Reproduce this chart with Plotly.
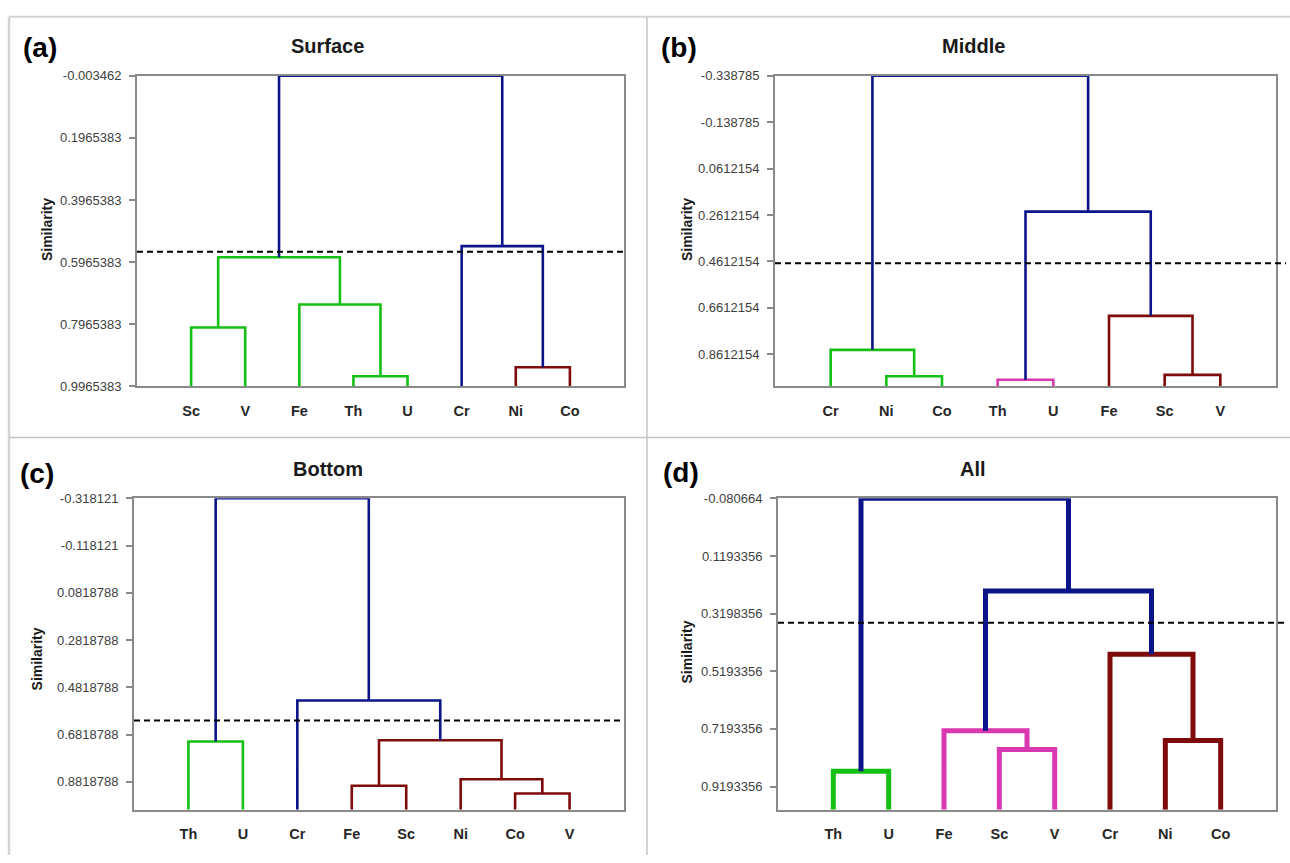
import plotly.graph_objects as go

W, H = 1290, 863

# ---------------- data ----------------
BLUE, GREEN, RED, MAG = "#0B1488", "#14C014", "#7E0A0A", "#D838B0"

titles = ["Surface", "Middle", "Bottom", "All"]
letters = ["(a)", "(b)", "(c)", "(d)"]

leaves_a = ["Sc", "V", "Fe", "Th", "U", "Cr", "Ni", "Co"]
leaves_b = ["Cr", "Ni", "Co", "Th", "U", "Fe", "Sc", "V"]
leaves_c = ["Th", "U", "Cr", "Fe", "Sc", "Ni", "Co", "V"]
leaves_d = ["Th", "U", "Fe", "Sc", "V", "Cr", "Ni", "Co"]

# merges: (child1, child2, similarity level, colour); int = index of earlier merge
merges_a = [("Th", "U", 0.964, GREEN), ("Ni", "Co", 0.935, RED), ("Sc", "V", 0.807, GREEN),
            ("Fe", 0, 0.733, GREEN), (2, 3, 0.581, GREEN), ("Cr", 1, 0.545, BLUE),
            (4, 5, -0.003462, BLUE)]
merges_b = [("Th", "U", 0.972, MAG), ("Ni", "Co", 0.9565, GREEN), ("Sc", "V", 0.951, RED),
            ("Cr", 1, 0.843, GREEN), ("Fe", 2, 0.6964, RED), (0, 4, 0.247, BLUE),
            (3, 5, -0.338785, BLUE)]
merges_c = [("Co", "V", 0.931, RED), ("Fe", "Sc", 0.898, RED), ("Ni", 0, 0.871, RED),
            (1, 2, 0.706, RED), ("Th", "U", 0.711, GREEN), ("Cr", 3, 0.5375, BLUE),
            (4, 5, -0.318121, BLUE)]
merges_d = [("Th", "U", 0.866, GREEN), ("Sc", "V", 0.791, MAG), ("Ni", "Co", 0.760, RED),
            ("Fe", 1, 0.726, MAG), ("Cr", 2, 0.460, RED), (3, 4, 0.2408, BLUE),
            (0, 5, -0.080664, BLUE)]

y_top = [-0.003462, -0.338785, -0.318121, -0.080664]
y_bottom = [0.9965383, 1.0, 1.0, 1.0]
ticks_a = ["-0.003462", "0.1965383", "0.3965383", "0.5965383", "0.7965383", "0.9965383"]
ticks_b = ["-0.338785", "-0.138785", "0.0612154", "0.2612154", "0.4612154", "0.6612154", "0.8612154"]
ticks_c = ["-0.318121", "-0.118121", "0.0818788", "0.2818788", "0.4818788", "0.6818788", "0.8818788"]
ticks_d = ["-0.080664", "0.1193356", "0.3198356", "0.5193356", "0.7193356", "0.9193356"]
thresholds = [0.563, 0.469, 0.622, 0.351]

leaves = [leaves_a, leaves_b, leaves_c, leaves_d]
merges = [merges_a, merges_b, merges_c, merges_d]
ticks = [ticks_a, ticks_b, ticks_c, ticks_d]

# ---------------- layout constants (pixels) ----------------
boxes = [(137, 624, 70, 386), (775, 1276, 70, 386), (134, 624, 500, 817), (778, 1276, 500, 817)]
line_w = [2.6, 2.6, 2.6, 5.0]
dash_end = [None, 1286, None, 1286]
letter_pos = [(40, 41), (679, 41), (37, 475), (681, 474)]
title_pos = [(327, 40), (973, 40), (328, 470), (973, 470)]
ylab_pos = [(47, 227), (687, 227), (37, 664), (687, 657)]

FONT = "Liberation Sans, Arial, sans-serif"

fig = go.Figure()
layout = dict(width=W, height=H, margin=dict(l=0, r=0, t=0, b=0),
              paper_bgcolor="white", plot_bgcolor="white", showlegend=False)
shapes, annots = [], []


def px(x):
    return x / W


def py(y):
    return 1 - y / H


for i in range(4):
    n = i + 1
    xa = "x" if n == 1 else f"x{n}"
    ya = "y" if n == 1 else f"y{n}"
    base = y_bottom[i]
    pos = {name: (k + 1, base) for k, name in enumerate(leaves[i])}
    for k, (a, b, h, col) in enumerate(merges[i]):
        x1, y1 = pos[a]
        x2, y2 = pos[b]
        fig.add_trace(go.Scatter(x=[x1, x1, x2, x2], y=[y1, h, h, y2], mode="lines",
                                 line=dict(color=col, width=line_w[i]),
                                 xaxis=xa, yaxis=ya, hoverinfo="skip"))
        pos[k] = ((x1 + x2) / 2, h)

    l, r, t, b = boxes[i]
    tv = [y_top[i] + 0.2 * j for j in range(len(ticks[i]))]
    layout["xaxis" if n == 1 else f"xaxis{n}"] = dict(
        domain=[px(l), px(r)], range=[0, 9], anchor=ya,
        tickvals=list(range(1, 9)), ticktext=leaves[i], ticks="", ticklen=0,
        ticklabelstandoff=10,
        tickfont=dict(family=FONT, size=14.5, color="#262626", weight="bold"),
        showgrid=False, zeroline=False, showline=True, mirror=True,
        linecolor="#8a8a8a", linewidth=2)
    layout["yaxis" if n == 1 else f"yaxis{n}"] = dict(
        domain=[py(b), py(t)], range=[y_bottom[i], y_top[i]], anchor=xa,
        tickvals=tv, ticktext=ticks[i], ticks="outside", ticklen=6, tickwidth=1.5,
        tickcolor="#8a8a8a", ticklabelstandoff=5,
        tickfont=dict(family=FONT, size=13, color="#404040"),
        showgrid=False, zeroline=False, showline=True, mirror=True,
        linecolor="#8a8a8a", linewidth=2)

    # threshold line
    x1 = 1.0 if dash_end[i] is None else (dash_end[i] - l) / (r - l)
    shapes.append(dict(type="line", xref=f"{xa} domain", yref=ya, x0=0, x1=x1,
                       y0=thresholds[i], y1=thresholds[i],
                       line=dict(color="black", width=2, dash="6px,4px")))

    annots.append(dict(text=letters[i], x=px(letter_pos[i][0]), y=py(letter_pos[i][1]),
                       xref="paper", yref="paper", showarrow=False, xanchor="center", yanchor="middle",
                       font=dict(family=FONT, size=28, color="black", weight="bold")))
    annots.append(dict(text=titles[i], x=px(title_pos[i][0]), y=py(title_pos[i][1]),
                       xref="paper", yref="paper", showarrow=False, xanchor="center", yanchor="middle",
                       font=dict(family=FONT, size=20, color="#1a1a1a", weight="bold")))
    annots.append(dict(text="Similarity", x=px(ylab_pos[i][0]), y=py(ylab_pos[i][1]),
                       xref="paper", yref="paper", showarrow=False, xanchor="center", yanchor="middle",
                       textangle=-90,
                       font=dict(family=FONT, size=14, color="#1a1a1a", weight="bold")))

# panel frame lines
frame = [((9, 10), (1290, 10), "#d4d4d4", 2), ((9, 10), (9, 863), "#d4d4d4", 2.5),
         ((647, 10), (647, 863), "#c4c4c4", 1.5), ((9, 438), (1290, 438), "#c4c4c4", 1.5)]
for (x0, y0), (x1, y1), c, w in frame:
    shapes.append(dict(type="line", xref="paper", yref="paper", x0=px(x0), y0=py(y0),
                       x1=px(x1), y1=py(y1), line=dict(color=c, width=w)))

layout["shapes"] = shapes
layout["annotations"] = annots
fig.update_layout(**layout)
fig.write_html("out.html")
